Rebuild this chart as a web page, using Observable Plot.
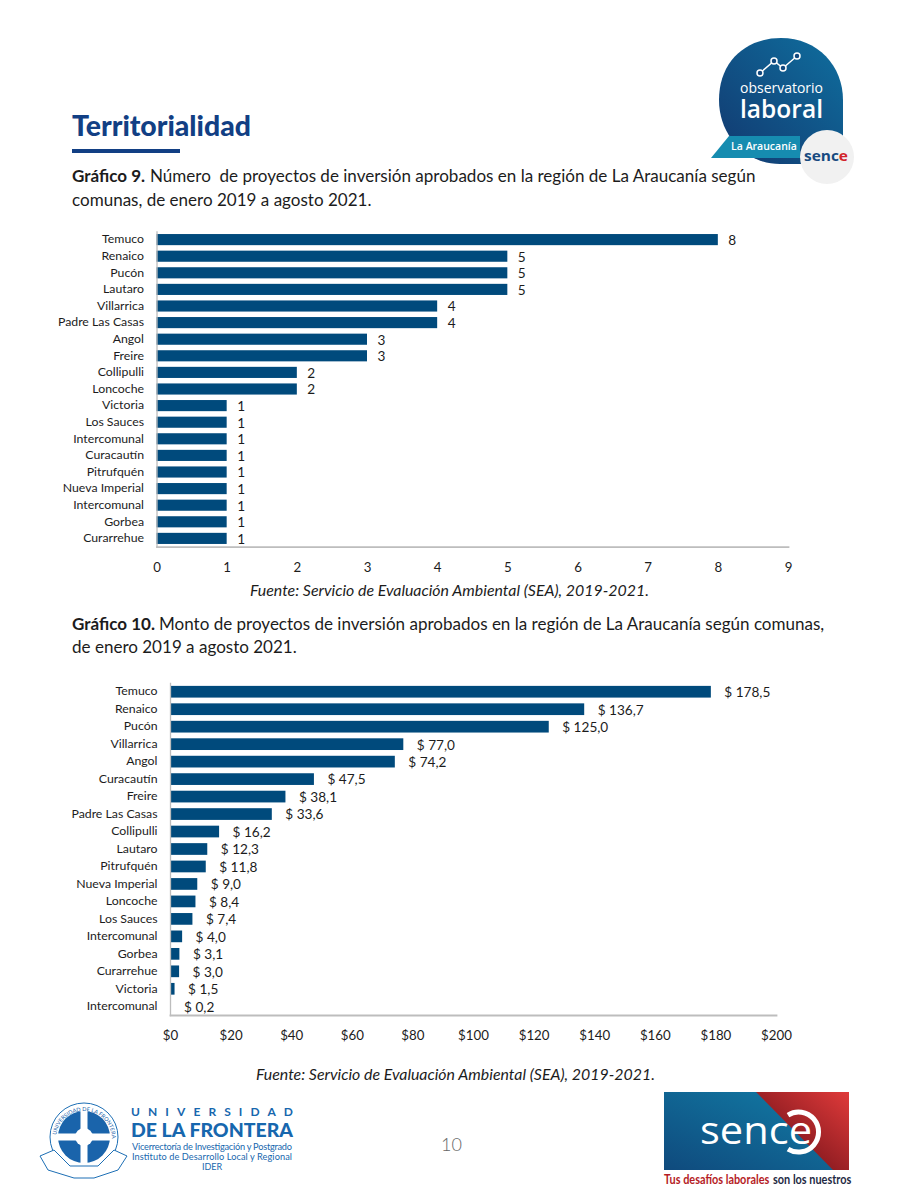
<!DOCTYPE html>
<html lang="es">
<head>
<meta charset="utf-8">
<script src="https://cdn.jsdelivr.net/npm/d3@7"></script>
<script src="https://cdn.jsdelivr.net/npm/@observablehq/plot@0.6"></script>
<style>
html,body{margin:0;padding:0;background:#fff}
#page{position:relative;width:900px;height:1200px;overflow:hidden;font-family:Lato,"Open Sans",sans-serif;color:#1c1c1c}
#page>*{position:absolute}
.cap{left:72px;font-size:17.05px;line-height:22px;white-space:pre}
.src{font-style:italic;font-size:15.9px;line-height:20px;white-space:pre;color:#1c1c1c}
svg text{font-family:Lato,"Open Sans",sans-serif}
</style>
</head>
<body>
<div id="page">
  <div style="left:72px;top:107px;font-size:28.4px;font-weight:900;color:#123f84;line-height:36px;">Territorialidad</div>
  <div style="left:72px;top:149px;width:108px;height:4px;background:#123f84"></div>
  <div class="cap" style="top:165px"><b>Gráfico 9.</b></div>
  <div class="cap" style="top:165px;left:150px">Número  de proyectos de inversión aprobados en la región de La Araucanía según</div>
  <div class="cap" style="top:189px">comunas, de enero 2019 a agosto 2021.</div>
  <div class="src" style="left:250px;top:580px">Fuente: Servicio de Evaluación Ambiental (SEA), 2019-2021.</div>
  <div class="cap" style="top:613px"><b>Gráfico 10.</b></div>
  <div class="cap" style="top:613px;left:159px">Monto de proyectos de inversión aprobados en la región de La Araucanía según comunas,</div>
  <div class="cap" style="top:636px">de enero 2019 a agosto 2021.</div>
  <div class="src" style="left:256px;top:1064px">Fuente: Servicio de Evaluación Ambiental (SEA), 2019-2021.</div>
  <div style="left:441px;top:1133px;font-size:18px;font-weight:300;color:#666">10</div>

  <svg style="left:700px;top:30px" width="160" height="160" viewBox="700 30 160 160">
    <defs>
      <linearGradient id="bd" x1="0" y1="1" x2="1" y2="0"><stop offset="0" stop-color="#12386f"/><stop offset="1" stop-color="#0f6f9f"/></linearGradient>
    </defs>
    <path d="M719 100C719 62 745 38 781 38C818 38 843 66 843 100L843 164L780 164C745 164 719 135 719 100Z" fill="url(#bd)"/>
    <path d="M729 136L800 136L800 158L711 158Z" fill="#168cb0"/>
    <polyline points="760,73 774,61 783,68 797,56" fill="none" stroke="#fff" stroke-width="1.4"/>
    <g fill="#12487f" stroke="#fff" stroke-width="1.5"><circle cx="760" cy="73" r="3"/><circle cx="774" cy="61" r="3"/><circle cx="783" cy="68" r="3"/><circle cx="797" cy="56" r="3"/></g>
    <text x="740" y="93" font-size="14.5" fill="#fff" textLength="83" lengthAdjust="spacingAndGlyphs" style="font-family:'Open Sans'">observatorio</text>
    <text x="740" y="118" font-size="26" fill="#fff" textLength="83" lengthAdjust="spacingAndGlyphs" style="font-family:'Open Sans'" font-weight="600">laboral</text>
    <text x="764" y="150" text-anchor="middle" font-size="10.5" fill="#fff" style="font-family:'Open Sans'" font-weight="600">La Araucanía</text>
    <circle cx="827" cy="157" r="27" fill="#f1f1f1"/>
    <text x="804" y="161" font-size="14.5" font-weight="700" fill="#174a80" textLength="44" lengthAdjust="spacingAndGlyphs" style="font-family:'Open Sans'">senc<tspan fill="#d2232a">e</tspan></text>
  </svg>

  <svg style="left:30px;top:1090px" width="280" height="95" viewBox="30 1090 280 95">
    <path id="ufroRing" d="M56 1139A28 28 0 1 1 112 1139" fill="none"/>
    <circle cx="84" cy="1137" r="34" fill="#fff" stroke="#1d6fb5" stroke-width="1"/>
    <circle cx="84" cy="1137" r="26" fill="#1a64ab"/>
    <path d="M84 1110V1164M57 1137H111" stroke="#fff" stroke-width="7"/>
    <circle cx="84" cy="1137" r="9" fill="#fff"/>
    <text font-size="5.5" fill="#1a64ab"><textPath href="#ufroRing" startOffset="4">UNIVERSIDAD DE LA FRONTERA</textPath></text>
    <path d="M40 1156L54 1150L70 1166L98 1166L114 1150L127 1156L118 1170L94 1178L74 1178L48 1170Z" fill="#fff" stroke="#1d6fb5"/>
    <text x="131" y="1116" font-size="12" font-weight="700" fill="#1767ae" textLength="162">UNIVERSIDAD</text>
    <text x="131" y="1137" font-size="19" font-weight="900" fill="#1767ae" textLength="162" lengthAdjust="spacingAndGlyphs">DE LA FRONTERA</text>
    <text x="132" y="1150" font-size="9.2" fill="#1767ae" textLength="160">Vicerrectoría de Investigación y Postgrado</text>
    <text x="132" y="1160" font-size="9.2" fill="#1767ae" textLength="160">Instituto de Desarrollo Local y Regional</text>
    <text x="212" y="1170" font-size="9" fill="#1767ae" text-anchor="middle">IDER</text>
  </svg>

  <svg style="left:660px;top:1088px" width="230" height="110" viewBox="660 1088 230 110">
    <defs>
      <linearGradient id="sc2" x1="0" y1="1" x2="1" y2="0"><stop offset="0" stop-color="#0f4a7d"/><stop offset="1" stop-color="#127fa8"/></linearGradient>
      <linearGradient id="sr2" x1="0" y1="1" x2="1" y2="0"><stop offset="0" stop-color="#5c0a12"/><stop offset="1" stop-color="#e03a3a"/></linearGradient>
    </defs>
    <rect x="664" y="1092" width="185" height="78" fill="url(#sc2)"/>
    <path d="M756 1092H849V1170H833Z" fill="url(#sr2)"/>
    <path d="M788 1115A20 20 0 1 1 788 1149" fill="none" stroke="#fff" stroke-width="5"/>
    <text x="700" y="1144" font-size="38" fill="#fff" textLength="112" lengthAdjust="spacingAndGlyphs" style="font-family:'Open Sans'">sence</text>
    <text transform="translate(664 1184) scale(0.84 1)" font-size="13" font-weight="700" fill="#b51c25">Tus desafíos laborales</text>
    <text transform="translate(773 1184) scale(0.84 1)" font-size="13" font-weight="700" fill="#1f2a44">son los nuestros</text>
  </svg>
</div>
<script>
const BLUE = "#004a7c", AXIS = "#bdbdbd", INK = "#1c1c1c";

const comunas9 = ["Temuco","Renaico","Pucón","Lautaro","Villarrica","Padre Las Casas","Angol","Freire","Collipulli","Loncoche","Victoria","Los Sauces","Intercomunal","Curacautín","Pitrufquén","Nueva Imperial","Intercomunal","Gorbea","Curarrehue"];
const proyectos9 = [8,5,5,5,4,4,3,3,2,2,1,1,1,1,1,1,1,1,1];
const ticks9 = [0,1,2,3,4,5,6,7,8,9];

const comunas10 = ["Temuco","Renaico","Pucón","Villarrica","Angol","Curacautín","Freire","Padre Las Casas","Collipulli","Lautaro","Pitrufquén","Nueva Imperial","Loncoche","Los Sauces","Intercomunal","Gorbea","Curarrehue","Victoria","Intercomunal"];
const montos10 = [178.5,136.7,125.0,77.0,74.2,47.5,38.1,33.6,16.2,12.3,11.8,9.0,8.4,7.4,4.0,3.1,3.0,1.5,0.2];
const ticks10 = [0,20,40,60,80,100,120,140,160,180,200];

function chart({names, values, ticks, top, height, left, right, mt, mb, dx, domainMax, fmtX, fmtV}) {
  const idx = names.map((_, i) => i);
  const svg = Plot.plot({
    width: 900, height,
    marginLeft: left, marginRight: right, marginTop: mt, marginBottom: mb,
    style: {background: "transparent", fontFamily: "Lato", overflow: "visible"},
    x: {domain: [0, domainMax], ticks},
    y: {domain: idx, paddingInner: 0.33, paddingOuter: 0.165, round: false},
    marks: [
      Plot.barX(idx, {x: i => values[i], y: i => i, fill: BLUE}),
      Plot.text(idx, {x: i => values[i], y: i => i, text: i => fmtV(values[i]), dx, dy: 0.5, textAnchor: "start", fill: INK, fontSize: 13.6}),
      Plot.axisY({tickSize: 0, tickPadding: 13, dy: -0.7, tickFormat: i => names[i], fontSize: 12.3, color: INK, label: null}),
      Plot.axisX(ticks, {tickSize: 0, tickPadding: 15, tickFormat: fmtX, fontSize: 13.3, color: INK, label: null}),
      Plot.frame({anchor: "left", stroke: AXIS, strokeWidth: 1.3}),
      Plot.frame({anchor: "bottom", stroke: AXIS, strokeWidth: 1.8})
    ]
  });
  svg.style.position = "absolute";
  svg.style.left = "0";
  svg.style.top = top + "px";
  document.getElementById("page").appendChild(svg);
}

chart({names: comunas9, values: proyectos9, ticks: ticks9, top: 220, height: 360, left: 156.5, right: 112, mt: 11.3, mb: 33.3,
  dx: 10, domainMax: 9, fmtX: d => String(d), fmtV: d => String(d)});
chart({names: comunas10, values: montos10, ticks: ticks10, top: 670, height: 380, left: 170, right: 124, mt: 13, mb: 35,
  dx: 13, domainMax: 200, fmtX: d => "$" + d, fmtV: d => "$ " + d.toFixed(1).replace(".", ",")});
</script>
</body>
</html>
